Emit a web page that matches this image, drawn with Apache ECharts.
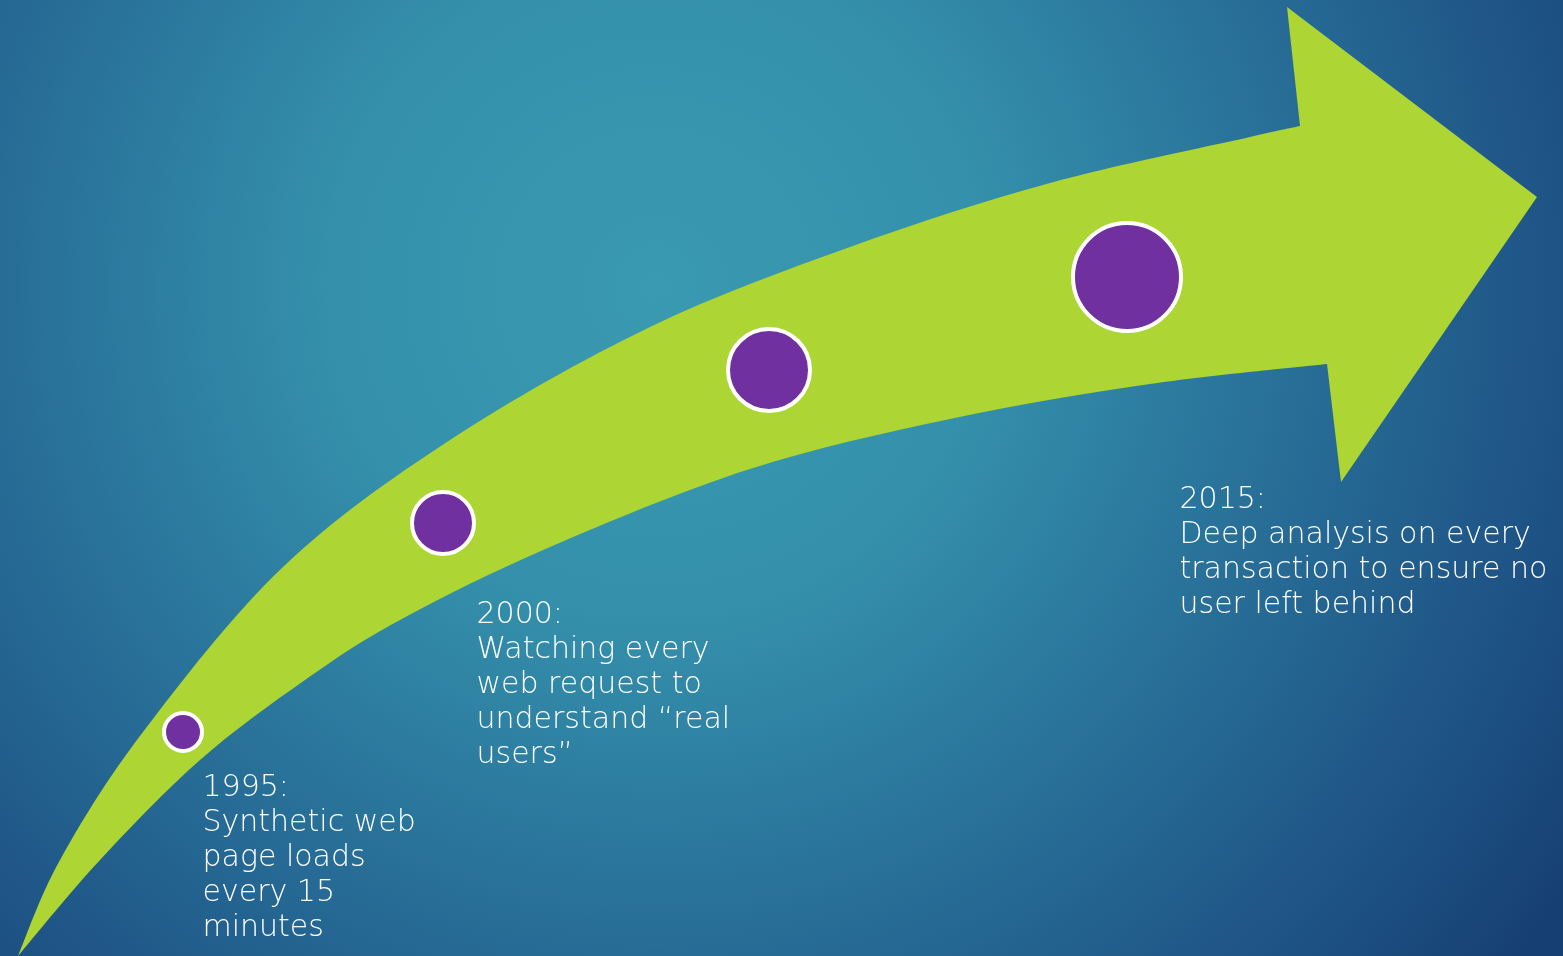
<!DOCTYPE html>
<html lang="en">
<head>
    <meta charset="UTF-8">
    <title>timeline arrow</title>
    <script src="https://cdn.jsdelivr.net/npm/echarts/dist/echarts.min.js"></script>
    <style>
        html, body { margin: 0; padding: 0; }
        #chart { width: 1563px; height: 956px; }
    </style>
</head>
<body>
<div id="chart"></div>
<script>
    // plot space is a plain 1563 x 956 unit plane (y grows downward)
    var arrowUpper = [[18, 956], [60, 860], [143, 732], [283, 567], [450, 440], [650, 327], [850, 247],
        [1050, 183], [1250, 137], [1300, 126]];
    var arrowHead = [[1287, 7], [1537, 197], [1341, 482], [1327, 364]];
    var arrowLower = [[1327, 364], [1150, 384], [950, 419], [750, 469], [550, 547], [400, 620], [305, 680],
        [200, 760], [100, 860], [18, 956]];

    var milestoneX = [183, 443, 769, 1127];
    var milestoneY = [732, 523, 370, 277];
    var milestoneSize = [38, 62, 82, 108];

    var years = ['1995:', '2000:', '2015:'];
    var notes = [
        ['Synthetic web', 'page loads', 'every 15', 'minutes'],
        ['Watching every', 'web request to', 'understand \u201creal', 'users\u201d'],
        ['Deep analysis on every', 'transaction to ensure no', 'user left behind']
    ];
    var noteX = [203, 477, 1180];
    var noteY = [771, 598, 483];

    var chart = echarts.init(document.getElementById('chart'));

    // smooth curve through pixel points (Catmull-Rom -> cubic bezier)
    function curvePath(pts, start) {
        var d = (start ? 'M' : 'L') + pts[0][0] + ',' + pts[0][1];
        for (var i = 0; i < pts.length - 1; i++) {
            var p0 = pts[i - 1] || pts[i];
            var p1 = pts[i];
            var p2 = pts[i + 1];
            var p3 = pts[i + 2] || p2;
            var c1 = [p1[0] + (p2[0] - p0[0]) / 6, p1[1] + (p2[1] - p0[1]) / 6];
            var c2 = [p2[0] - (p3[0] - p1[0]) / 6, p2[1] - (p3[1] - p1[1]) / 6];
            d += 'C' + c1[0] + ',' + c1[1] + ' ' + c2[0] + ',' + c2[1] + ' ' + p2[0] + ',' + p2[1];
        }
        return d;
    }

    var options = {
        backgroundColor: {
            type: 'radial', x: 0.42, y: 0.3, r: 1.15,
            colorStops: [
                { offset: 0, color: '#3a9ab1' },
                { offset: 0.3, color: '#3490ab' },
                { offset: 0.65, color: '#256793' },
                { offset: 0.85, color: '#1d5083' },
                { offset: 1, color: '#163f73' }
            ]
        },
        animation: false,
        grid: { left: 0, right: 0, top: 0, bottom: 0 },
        xAxis: { type: 'value', min: 0, max: 1563, show: false },
        yAxis: { type: 'value', min: 0, max: 956, inverse: true, show: false },
        series: [
            {
                type: 'custom',
                data: [0],
                silent: true,
                renderItem: function (params, api) {
                    var toPx = function (p) { return api.coord(p); };
                    var d = curvePath(arrowUpper.map(toPx), true);
                    arrowHead.map(toPx).forEach(function (p) { d += 'L' + p[0] + ',' + p[1]; });
                    d += curvePath(arrowLower.map(toPx), false) + 'Z';
                    return {
                        type: 'path',
                        shape: { pathData: d },
                        style: { fill: '#add533' }
                    };
                }
            },
            {
                type: 'scatter',
                data: milestoneX.map(function (x, i) { return [x, milestoneY[i], milestoneSize[i]]; }),
                symbol: 'circle',
                symbolSize: function (v) { return v[2]; },
                itemStyle: { color: '#7030a0', borderColor: '#ffffff', borderWidth: 4, opacity: 1 },
                z: 3
            },
            {
                type: 'scatter',
                data: noteX.map(function (x, i) { return [x, noteY[i]]; }),
                symbolSize: 1,
                itemStyle: { color: 'transparent', opacity: 1 },
                label: {
                    show: true,
                    position: [0, 0],
                    align: 'left',
                    verticalAlign: 'top',
                    color: '#ffffff',
                    fontFamily: 'DejaVu Sans',
                    fontWeight: 200,
                    fontSize: 30,
                    lineHeight: 35,
                    formatter: function (p) {
                        return [years[p.dataIndex]].concat(notes[p.dataIndex]).join('\n');
                    }
                },
                z: 4
            }
        ]
    };

    chart.setOption(options);
</script>
</body>
</html>
